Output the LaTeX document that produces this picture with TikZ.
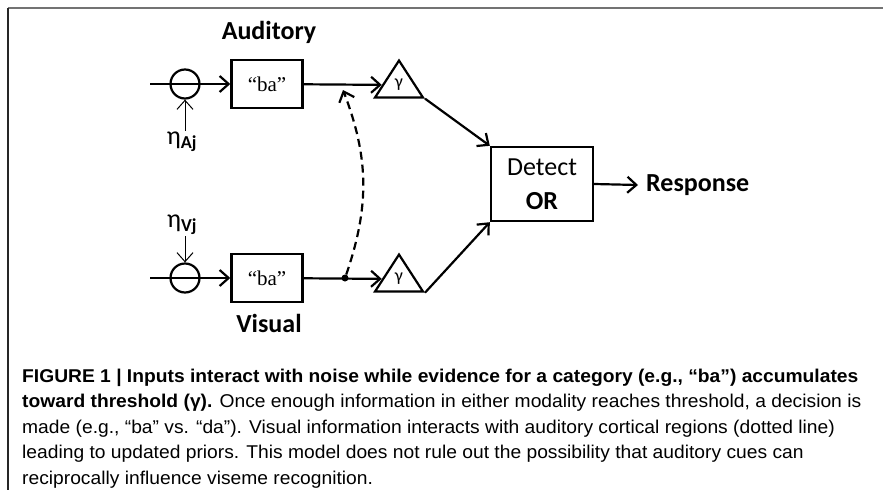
\documentclass[tikz,border=0pt]{standalone}
\usepackage{fontspec}
\setmainfont{Carlito}
\newfontfamily\quotefont{Liberation Serif}
\newfontfamily\capfont[FakeStretch=1.04]{Liberation Sans}
\usetikzlibrary{arrows.meta,shapes.geometric,positioning}

\tikzset{
  >={Straight Barb[length=9pt,width=16pt]},
  wire/.style={line width=2.2pt,->},
  sumnode/.style={circle,draw,line width=2.2pt,minimum size=29pt,inner sep=0pt},
  wordbox/.style={rectangle,draw,line width=2.4pt,minimum width=71pt,minimum height=48pt,
    font=\quotefont\fontsize{21}{21}\selectfont},
  thresh/.style={isosceles triangle,isosceles triangle stretches=true,shape border rotate=90,
    draw,line width=2.2pt,minimum width=48pt,minimum height=37pt,inner sep=0pt,font=\fontsize{18}{18}\selectfont},
  title/.style={font=\bfseries\fontsize{26}{26}\selectfont},
  noise/.style={font=\fontsize{26}{26}\selectfont,inner sep=1pt},
  dot/.style={circle,fill,inner sep=0pt,minimum size=7pt}
}

\begin{document}
\begin{tikzpicture}[x=1pt,y=-1pt]
\useasboundingbox (0,0) rectangle (883,490);
% frame
\draw[black!55,line width=1.5pt] (8,8) -- (883,8);
\draw[black!85,line width=1.5pt] (8,8) -- (8,490);

% auditory channel
\node[title] (audtitle) at (269,32) {Auditory};
\coordinate (inA) at (150,84);
\node[sumnode] (sumA) at (185,84) {};
\node[wordbox] (boxA) at (267,84) {“ba”};
\node[thresh] (triA) at (399,85) {γ};
\node[noise] (etaA) at (182,142) {η\textsubscript{\bfseries Aj}};

% visual channel
\node[title] (vistitle) at (269,323) {Visual};
\coordinate (inV) at (150,278);
\node[sumnode] (sumV) at (185,278) {};
\node[wordbox] (boxV) at (267,278) {“ba”};
\node[thresh] (triV) at (399,279) {γ};
\node[noise] (etaV) at (182,225) {η\textsubscript{\bfseries Vj}};
\node[dot] (split) at (345,278) {};
\coordinate (tapA) at (343,90);

% decision
\node[rectangle,draw,line width=2.4pt,minimum width=102pt,minimum height=74pt,align=center,
  font=\fontsize{26}{34}\selectfont] (detect) at (542,184) {Detect\\\textbf{OR}};
\node[title,anchor=west,inner sep=0pt] (resp) at (646,185) {Response};

\draw[wire] (inA) -- (boxA);
\draw[wire] (inV) -- (boxV);
\draw[wire] (boxA) -- (triA);
\draw[wire] (boxV) -- (triV);
\draw[->,line width=1pt] (sumA |- etaA.north) -- (sumA);
\draw[->,line width=1pt] (sumV |- etaV.south) -- (sumV);
\draw[wire] (triA.right corner) -- (detect.north west);
\draw[wire] (triV.right corner) -- (detect.south west);
\draw[wire] (detect.east) -- ([xshift=-8pt]resp.west);
\draw[->,line width=2.2pt,dash pattern=on 8pt off 5pt] (split) to[bend right=20] (tapA);

% caption
\node[anchor=base west,align=left,inner sep=0pt,font=\capfont\fontsize{18.5}{25.5}\selectfont] (caption) at (22,484)
{\textbf{FIGURE 1 | Inputs interact with noise while evidence for a category (e.g., “ba”) accumulates}\\
\textbf{toward threshold (γ).} Once enough information in either modality reaches threshold, a decision is\\
made (e.g., “ba” vs. “da”). Visual information interacts with auditory cortical regions (dotted line)\\
leading to updated priors. This model does not rule out the possibility that auditory cues can\\
reciprocally influence viseme recognition.};
\end{tikzpicture}
\end{document}
